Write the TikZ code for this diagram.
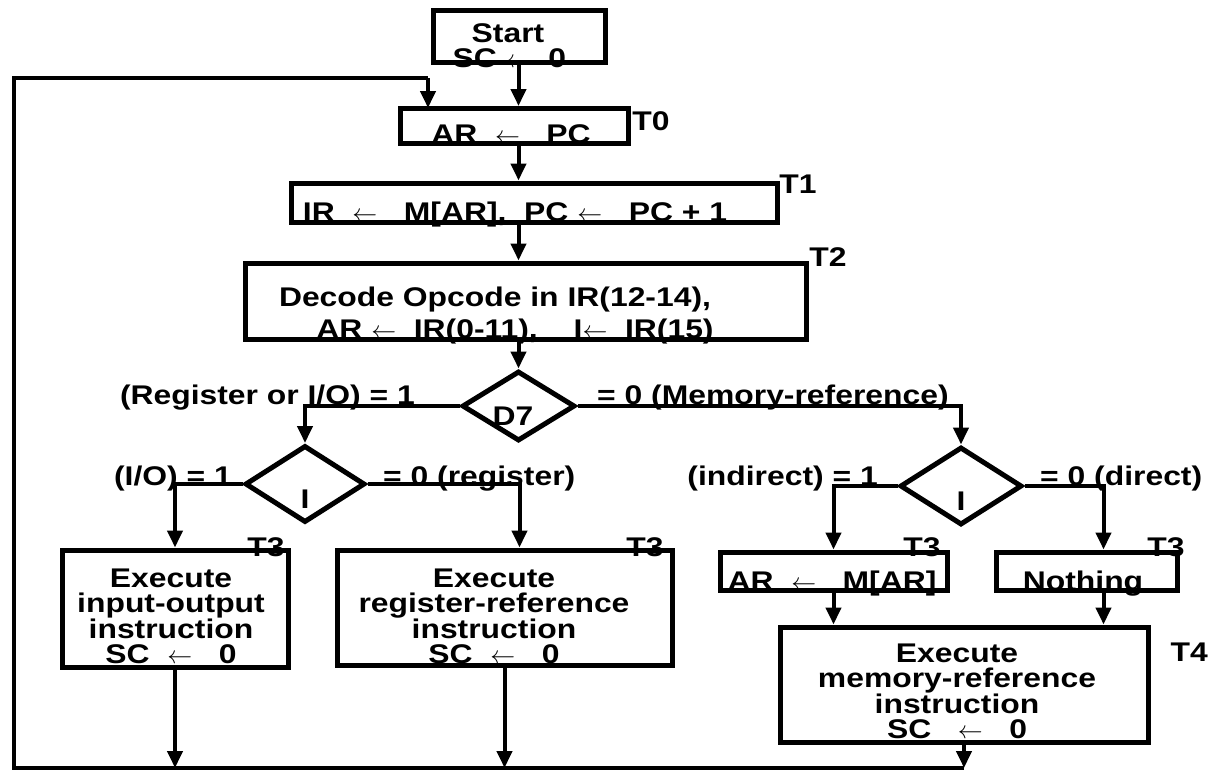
\documentclass[tikz,border=0pt]{standalone}
\usepackage{fontspec}
\setmainfont{Liberation Sans}[FakeStretch=1.18]
\usetikzlibrary{shapes.geometric,arrows.meta}
\begin{document}
\begin{tikzpicture}[x=1pt,y=-1pt,
  font=\bfseries\fontsize{27}{25}\selectfont,
  box/.style={draw,line width=5pt,rectangle,inner sep=0pt},
  dmd/.style={draw,line width=5pt,diamond,inner sep=0pt},
  txt/.style={inner sep=0pt,align=center},
  conn/.style={line width=4pt,-{Triangle[length=17pt,width=15pt]}},
  wire/.style={line width=4pt}]
  \useasboundingbox (0,0) rectangle (1209,772);
  \node[box,minimum width=172,minimum height=52] (start) at (519,36) {};
  \node[box,minimum width=228,minimum height=35] (ar) at (514,126) {};
  \node[box,minimum width=486,minimum height=39] (ir) at (534,202.5) {};
  \node[box,minimum width=561,minimum height=76] (dec) at (525.5,301) {};
  \node[dmd,minimum width=113,minimum height=70] (d7) at (518.5,406) {};
  \node[dmd,minimum width=120,minimum height=77] (ioI) at (305,484) {};
  \node[dmd,minimum width=122,minimum height=78] (memI) at (961,486) {};
  \node[box,minimum width=226,minimum height=117] (io) at (175,608.5) {};
  \node[box,minimum width=335,minimum height=115] (reg) at (504.5,607.5) {};
  \node[box,minimum width=227,minimum height=38] (ind) at (833.5,571) {};
  \node[box,minimum width=181,minimum height=38] (nop) at (1086.5,571) {};
  \node[box,minimum width=368,minimum height=115] (mem) at (964,684.5) {};
  \node[txt,anchor=south] (starttxt) at (508,68) {Start\\SC $\leftarrow$\ \ $\mathbf{0}$};
  \node[txt,anchor=base] (artxt) at (511,143) {AR \ $\leftarrow$ \ \ PC};
  \node[txt,anchor=base] (irtxt) at (515,221) {IR \ $\leftarrow$ \ \ M[AR], \ PC $\leftarrow$ \ \ PC + 1};
  \node[txt,anchor=south] (dectxt) at (495,344) {Decode Opcode in IR(12-14),\\[6pt]\hspace*{40pt}AR $\leftarrow$ \ IR(0-11), \quad I$\leftarrow$ \ IR(15)};
  \node[txt,anchor=base] (d7txt) at (513,425) {D7};
  \node[txt,anchor=base] (ioItxt) at (305,508) {I};
  \node[txt,anchor=base] (memItxt) at (961,510) {I};
  \node[txt,anchor=south] (iotxt) at (171,664) {Execute\\input-output\\instruction\\SC \ $\leftarrow$ \ \ 0};
  \node[txt,anchor=south] (regtxt) at (494,664) {Execute\\register-reference\\instruction\\SC \ $\leftarrow$ \ \ 0};
  \node[txt,anchor=base] (indtxt) at (832,590) {AR \ $\leftarrow$ \ \ M[AR]};
  \node[txt,anchor=base] (noptxt) at (1083,590) {Nothing};
  \node[txt,anchor=south] (memtxt) at (957,739) {Execute\\memory-reference\\instruction\\SC \ \ $\leftarrow$ \ \ 0};
  \node[txt] (t0) at (651,121) {T0};
  \node[txt] (t1) at (798,184) {T1};
  \node[txt] (t2) at (828,257) {T2};
  \node[txt] (t3a) at (266,547) {T3};
  \node[txt] (t3b) at (645,547) {T3};
  \node[txt] (t3c) at (922,547) {T3};
  \node[txt] (t3d) at (1166,547) {T3};
  \node[txt,anchor=east] (t4) at (1208,652) {T4};
  \node[txt,anchor=base east] (regio) at (415,404) {(Register or I/O) = 1};
  \node[txt,anchor=base west] (memref) at (597,404) {= 0 (Memory-reference)};
  \node[txt,anchor=base east] (ioone) at (232,485) {(I/O) = 1};
  \node[txt,anchor=base west] (regzero) at (383,485) {= 0 (register)};
  \node[txt,anchor=base east] (indone) at (878,485) {(indirect) = 1};
  \node[txt,anchor=base west] (dirzero) at (1040,485) {= 0 (direct)};
  \coordinate (looptl) at (14,78);
  \coordinate (loopbl) at (14,768);
  \coordinate (loopin) at (428,108);
  \draw[conn] (start.south -| d7) -- (ar.north -| d7);
  \draw[conn] (ar.south -| d7) -- (ir.north -| d7);
  \draw[conn] (ir.south -| d7) -- (dec.north -| d7);
  \draw[conn] (dec.south -| d7) -- (d7.north);
  \draw[conn] (d7.west) -| (ioI.north);
  \draw[conn] (d7.east) -| (memI.north);
  \draw[conn] (ioI.west) -| (io.north);
  \draw[conn] (ioI.east) -| ([xshift=15pt]reg.north);
  \draw[conn] (memI.west) -| (ind.north);
  \draw[conn] (memI.east) -| ([xshift=17pt]nop.north);
  \draw[conn] (ind.south) -- (ind.south |- mem.north);
  \draw[conn] ([xshift=17pt]nop.south) -- ([xshift=17pt]nop.south |- mem.north);
  \draw[conn] (io.south) -- (io.south |- loopbl);
  \draw[conn] (reg.south) -- (reg.south |- loopbl);
  \draw[conn] (mem.south) -- (mem.south |- loopbl);
  \draw[wire] (mem.south |- loopbl) -- (loopbl) -- (looptl) -| (loopin |- looptl);
  \draw[conn] (loopin |- looptl) -- (loopin);
\end{tikzpicture}
\end{document}
